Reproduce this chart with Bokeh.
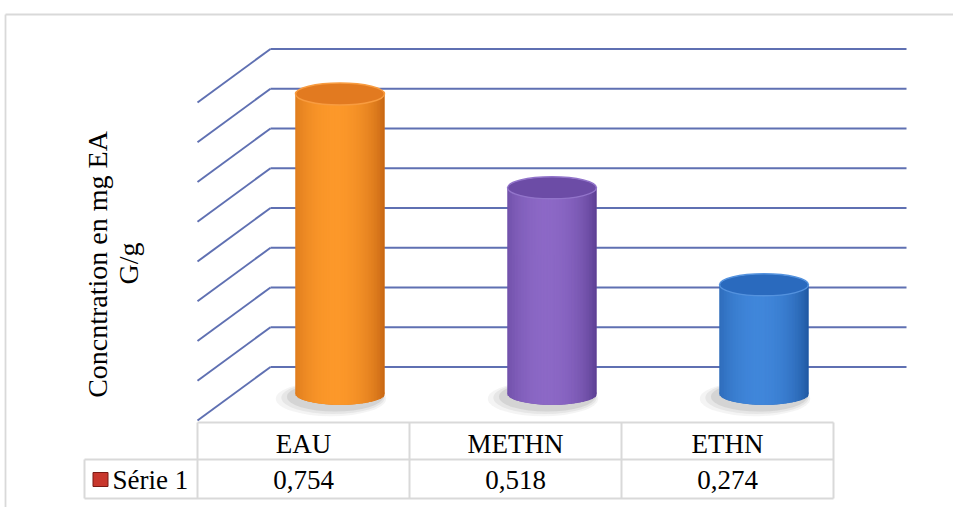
import numpy as np
from bokeh.plotting import figure
from bokeh.models import Range1d
from bokeh.core.properties import value
from bokeh.embed import file_html
from bokeh.resources import INLINE

# ---------------- data ----------------
categories = ["EAU", "METHN", "ETHN"]
values = [0.754, 0.518, 0.274]
value_labels = ["0,754", "0,518", "0,274"]
series_name = "Série 1"
y_title = ["Concntration en mg EA", "G/g"]
grid_values = [0.0, 0.1, 0.2, 0.3, 0.4, 0.5, 0.6, 0.7, 0.8]

# ---------------- styles ----------------
light_colors = [(252, 152, 42), (140, 104, 198), (64, 134, 218)]
dark_colors = [(190, 94, 16), (84, 56, 138), (26, 80, 152)]
top_colors = [(226, 122, 32), (108, 76, 166), (42, 106, 190)]
rim_colors = [(248, 156, 64), (146, 116, 202), (84, 146, 222)]
GRID_COLOR = "#5f70b2"
TABLE_COLOR = "#d9d9d9"
FONT = "Liberation Serif"

W, H = 953, 507
X0_PX, XU = 197.0, 212.0   # pixel of category-axis origin, pixels per category
Y0_PX, YU = 420.0, 397.5   # pixel of value 0 (front), pixels per unit value


def X(px):
    return (px - X0_PX) / XU


def Y(py):
    return (Y0_PX - py) / YU


def hexc(c):
    return "#%02x%02x%02x" % tuple(int(round(max(0, min(255, v)))) for v in c)


p = figure(width=W, height=H, x_range=Range1d(X(0), X(W)), y_range=Range1d(Y(H), Y(0)),
           output_backend="svg", toolbar_location=None, min_border=0,
           x_axis_location=None, y_axis_location=None)
p.grid.visible = False
p.outline_line_color = None
p.background_fill_color = "white"
p.border_fill_color = "white"

# outer chart border (top & left visible)
p.segment(x0=[X(5), X(5)], y0=[Y(14), Y(14)], x1=[X(W + 10), X(5)], y1=[Y(14), Y(H + 10)],
          line_color=TABLE_COLOR, line_width=1.8)

# 3D depth offset
DX = 73.0 / XU
DY = 53.5 / YU
ncat = len(categories)

# back wall gridlines
p.multi_line(xs=[[DX, ncat + DX] for v in grid_values],
             ys=[[v + DY, v + DY] for v in grid_values],
             line_color=GRID_COLOR, line_width=2)
# side wall gridlines
p.multi_line(xs=[[0, DX] for v in grid_values],
             ys=[[v, v + DY] for v in grid_values],
             line_color=GRID_COLOR, line_width=2)

# cylinders
R = 44.5 / XU
EH = 22.0 / YU
base = DY / 2
N = 60
for i, v in enumerate(values):
    cx = i + 0.5 + DX / 2
    # soft shadow, mostly to the lower left
    for k, (sc, al, ox, oy) in enumerate([(1.24, 0.07, -9, -5), (1.16, 0.10, -7, -4), (1.08, 0.14, -5, -3)]):
        p.ellipse(x=[cx + ox / XU], y=[base + oy / YU], width=2 * R * sc, height=EH * (1.35 + 0.12 * (2 - k)),
                  fill_color="#6a6a6a", fill_alpha=al, line_color=None)
    edges = np.linspace(cx - R, cx + R, N + 1)
    u = np.linspace(-1, 1, N + 1)
    um = (u[:-1] + u[1:]) / 2
    bottoms = base - EH / 2 * np.sqrt(np.clip(1 - um ** 2, 0, 1))
    t = um + 0.12
    f = np.clip(1 - (np.abs(t) / 1.15) ** 2, 0, 1) ** 0.7
    lc = np.array(light_colors[i])
    dc = np.array(dark_colors[i])
    cols = [hexc(dc + (lc - dc) * ff) for ff in f]
    # underlay so no gaps show between strips
    p.ellipse(x=[cx], y=[base], width=2 * R, height=EH, fill_color=hexc((lc + dc) / 2), line_color=None)
    p.quad(left=[cx - R], right=[cx + R], bottom=[base], top=[base + v],
           fill_color=hexc((lc + dc) / 2), line_color=None)
    overlap = (edges[1] - edges[0]) * 0.6
    rights = np.minimum(edges[1:] + overlap, cx + R)
    p.quad(left=edges[:-1], right=rights, bottom=bottoms, top=[base + v] * N,
           fill_color=cols, line_color=None)
    # top face
    p.ellipse(x=[cx], y=[base + v], width=2 * R, height=EH,
              fill_color=hexc(top_colors[i]), line_color=hexc(rim_colors[i]), line_width=1.5)

# data table
RH1 = 37.0 / YU
RH2 = 39.0 / YU
ty0 = Y(422)
ty1 = ty0 - RH1
ty2 = ty1 - RH2
xl = X(84)
seg_x0 = [0, xl, xl] + [float(c) for c in range(ncat + 1)] + [xl]
seg_y0 = [ty0, ty1, ty2] + [ty0] * (ncat + 1) + [ty1]
seg_x1 = [ncat, ncat, ncat] + [float(c) for c in range(ncat + 1)] + [xl]
seg_y1 = [ty0, ty1, ty2] + [ty2] * (ncat + 1) + [ty2]
p.segment(x0=seg_x0, y0=seg_y0, x1=seg_x1, y1=seg_y1, line_color=TABLE_COLOR, line_width=2)

cat_x = [i + 0.5 for i in range(ncat)]
p.text(x=cat_x, y=[Y(443)] * ncat, text=categories, text_font=value(FONT),
       text_font_size=value("27px"), text_align="center", text_baseline="middle", text_color="black")
p.text(x=cat_x, y=[Y(479)] * ncat, text=value_labels, text_font=value(FONT),
       text_font_size=value("27px"), text_align="center", text_baseline="middle", text_color="black")

# legend key + series name
p.rect(x=[X(100)], y=[Y(479)], width=15 / XU, height=14 / YU, fill_color="#c8372d", line_color="#7a1a14",
       line_width=1)
p.text(x=[X(112)], y=[Y(479)], text=[series_name], text_font=value(FONT),
       text_font_size=value("27px"), text_align="left", text_baseline="middle", text_color="black")

# value-axis title (two lines, rotated)
p.text(x=[X(97), X(128)], y=[Y(264), Y(263)], text=y_title, angle=np.pi / 2,
       text_font=value(FONT), text_font_size=value("28px"), text_align="center",
       text_baseline="alphabetic", text_color="black")

open("out.html", "w").write(file_html(p, INLINE))
